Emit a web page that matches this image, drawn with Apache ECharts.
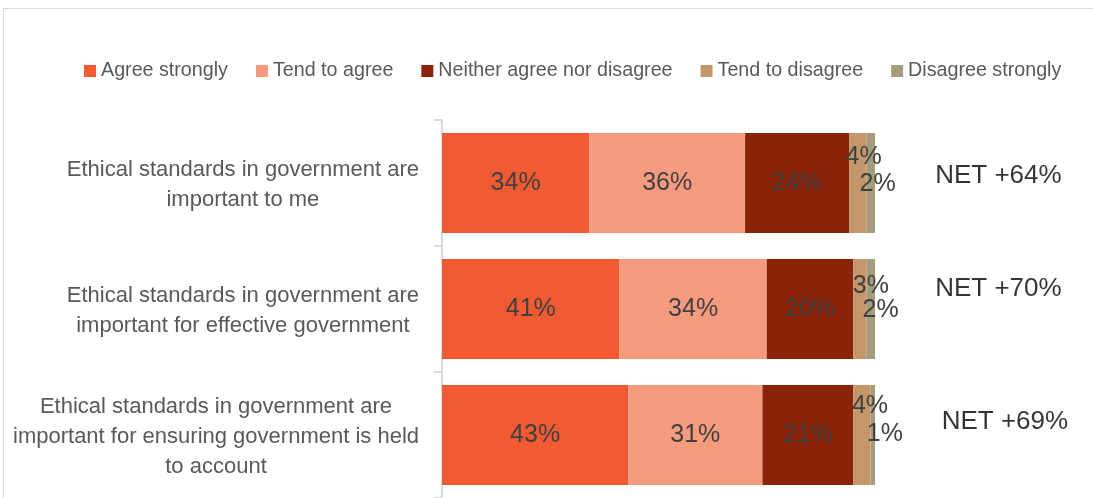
<!DOCTYPE html>
<html>
<head>
<meta charset="utf-8">
<style>
  html, body { margin: 0; padding: 0; background: #ffffff; }
  #chart { width: 1093px; height: 498px; }
</style>
<script src="https://cdn.jsdelivr.net/npm/echarts@6/dist/echarts.min.js"></script>
</head>
<body>
<div id="chart"></div>
<script>
// Survey statements (top to bottom)
const statements = [
  'Ethical standards in government are\nimportant to me',
  'Ethical standards in government are\nimportant for effective government',
  'Ethical standards in government are\nimportant for ensuring government is held\nto account'
];

// Response categories
const responses = ['Agree strongly', 'Tend to agree', 'Neither agree nor disagree', 'Tend to disagree', 'Disagree strongly'];

// Share of respondents (%) per statement
const agreeStrongly    = [34, 41, 43];
const tendToAgree      = [36, 34, 31];
const neither          = [24, 20, 21];
const tendToDisagree   = [4, 3, 4];
const disagreeStrongly = [2, 2, 1];

const responseValues = [agreeStrongly, tendToAgree, neither, tendToDisagree, disagreeStrongly];
const responseColors = ['#F15A32', '#F79B7F', '#8B2309', '#C4976B', '#A69B7A'];

// Net agreement = agree - disagree
const netScores = statements.map((_, i) =>
  agreeStrongly[i] + tendToAgree[i] - tendToDisagree[i] - disagreeStrongly[i]);

// Label nudges for the thin segments so they don't collide
const thinLabelOffsets = {
  3: [[6, -26], [11, -23], [8, -29]],
  4: [[7, 1], [10, 1], [12, -1]]
};
const netLabelX = [128.5, 128.5, 130];
const netLabelOffsets = [[0, -7], [0, -20], [0, -13]];

const regular = "'Liberation Sans', Arial, sans-serif";

const barSeries = responses.map((name, s) => ({
  name: name,
  type: 'bar',
  stack: 'total',
  barWidth: 100,
  itemStyle: { color: responseColors[s] },
  label: {
    show: true,
    position: 'inside',
    formatter: p => p.value + '%',
    color: '#404040',
    fontFamily: regular,
    fontSize: 25
  },
  emphasis: { disabled: true },
  data: responseValues[s].map((v, i) => {
    const item = { value: v };
    if (thinLabelOffsets[s]) {
      item.label = { offset: thinLabelOffsets[s][i] };
    }
    return item;
  })
}));

const netSeries = {
  name: 'NET',
  type: 'scatter',
  symbolSize: 0,
  clip: false,
  silent: true,
  label: {
    show: true,
    position: 'inside',
    color: '#000000',
    fontFamily: regular,
    fontSize: 26,
    formatter: p => 'NET +' + netScores[p.dataIndex] + '%'
  },
  data: statements.map((st, i) => ({
    value: [netLabelX[i], st],
    label: { offset: netLabelOffsets[i] }
  }))
};

const chart = echarts.init(document.getElementById('chart'), null, { renderer: 'canvas' });

chart.setOption({
  animation: false,
  backgroundColor: '#ffffff',
  graphic: [{
    type: 'rect',
    shape: { x: 3.5, y: 8.5, width: 1200, height: 600 },
    style: { fill: 'none', stroke: '#d9d9d9', lineWidth: 1 },
    silent: true
  }],
  legend: {
    data: responses,
    left: 79,
    top: 56,
    itemWidth: 12,
    itemHeight: 12,
    itemGap: 28,
    icon: 'rect',
    textStyle: { color: '#595959', fontFamily: regular, fontSize: 19.7 }
  },
  grid: { left: 442, right: 218, top: 120, bottom: 0, containLabel: false },
  xAxis: {
    type: 'value',
    min: 0,
    max: 100,
    show: false
  },
  yAxis: {
    type: 'category',
    inverse: true,
    data: statements,
    axisLine: { show: true, lineStyle: { color: '#d9d9d9', width: 2 } },
    axisTick: { show: true, length: 8, lineStyle: { color: '#d9d9d9', width: 2 } },
    axisLabel: {
      margin: 23,
      align: 'right',
      formatter: v => v.split('\n').map(l => '{c|' + l + '}').join('\n'),
      rich: {
        c: { align: 'center', color: '#595959', fontFamily: regular, fontSize: 22, lineHeight: 30, padding: [3, 0, 0, 0] }
      }
    }
  },
  series: [...barSeries, netSeries]
});
</script>
</body>
</html>
